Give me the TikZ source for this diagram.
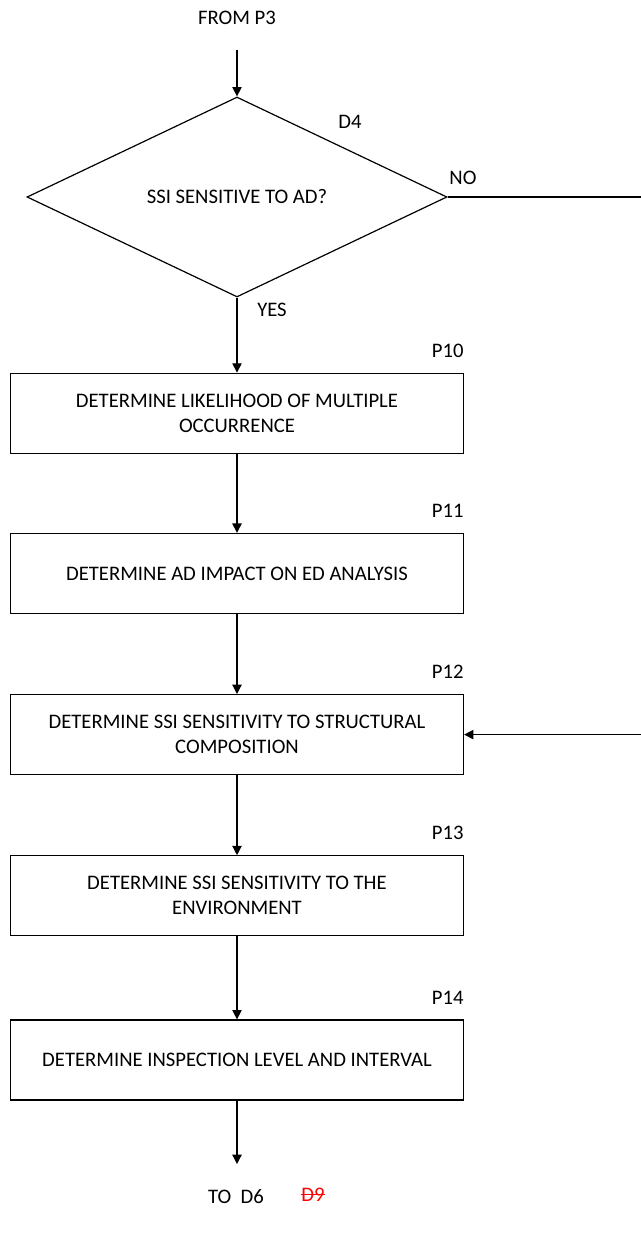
\documentclass[tikz,border=0pt]{standalone}
\usepackage{fontspec}
\setmainfont{Carlito}
\usetikzlibrary{positioning, shapes.geometric, arrows.meta}

\begin{document}
\begin{tikzpicture}[x=0.75pt, y=-0.75pt,
                    line width=0.9pt,
                    font=\fontsize{15.5}{18.75}\selectfont,
                    >={Triangle[length=7pt, width=7pt]},
                    decision/.style={draw, diamond, minimum width=315pt, minimum height=150pt, inner sep=0pt},
                    process/.style={draw, rectangle, minimum width=339.75pt, minimum height=60pt, align=center, inner sep=0pt},
                    tag/.style={above left=11pt and 0pt of #1, inner sep=0pt}
                    ]
    \useasboundingbox (0,0) rectangle (641,1235);

    \node (from) at (237,18) {FROM P3};
    \coordinate (start) at (237,50);

    \node[decision] (d4) at (237,197) {SSI SENSITIVE TO AD?};
    \node (d4lbl) at (350,122) {D4};
    \node (no) at (463,178) {NO};
    \node (yes) at (272,310) {YES};

    \node[process, below=56.25pt of d4] (p10) {DETERMINE LIKELIHOOD OF MULTIPLE\\OCCURRENCE};
    \node[process, below=59.25pt of p10] (p11) {DETERMINE AD IMPACT ON ED ANALYSIS};
    \node[process, below=60pt of p11] (p12) {DETERMINE SSI SENSITIVITY TO STRUCTURAL\\COMPOSITION};
    \node[process, below=60pt of p12] (p13) {DETERMINE SSI SENSITIVITY TO THE\\ENVIRONMENT};
    \node[process, below=62.25pt of p13] (p14) {DETERMINE INSPECTION LEVEL AND INTERVAL};

    \node[tag=p10.north east] (p10lbl) {P10};
    \node[tag=p11.north east] (p11lbl) {P11};
    \node[tag=p12.north east] (p12lbl) {P12};
    \node[tag=p13.north east] (p13lbl) {P13};
    \node[tag=p14.north east] (p14lbl) {P14};

    \coordinate (end) at (237,1164);
    \node (to) at (236,1197) {TO~~D6};
    \node[text=red, inner sep=0pt] (old) at (313,1195) {D9};
    \draw[red, line width=0.6pt] ([yshift=0.5pt]old.west) -- ([yshift=0.5pt]old.east);

    % way back in on the right
    \coordinate (bend) at (660,197);

    \draw[->] (start) -- (d4.north);
    \draw[->] (d4.south) -- (p10.north);
    \draw[->] (p10) -- (p11);
    \draw[->] (p11) -- (p12);
    \draw[->] (p12) -- (p13);
    \draw[->] (p13) -- (p14);
    \draw[->] (p14.south) -- (end);
    \draw[->] (d4.east) -- (bend) |- (p12.east);
\end{tikzpicture}
\end{document}
